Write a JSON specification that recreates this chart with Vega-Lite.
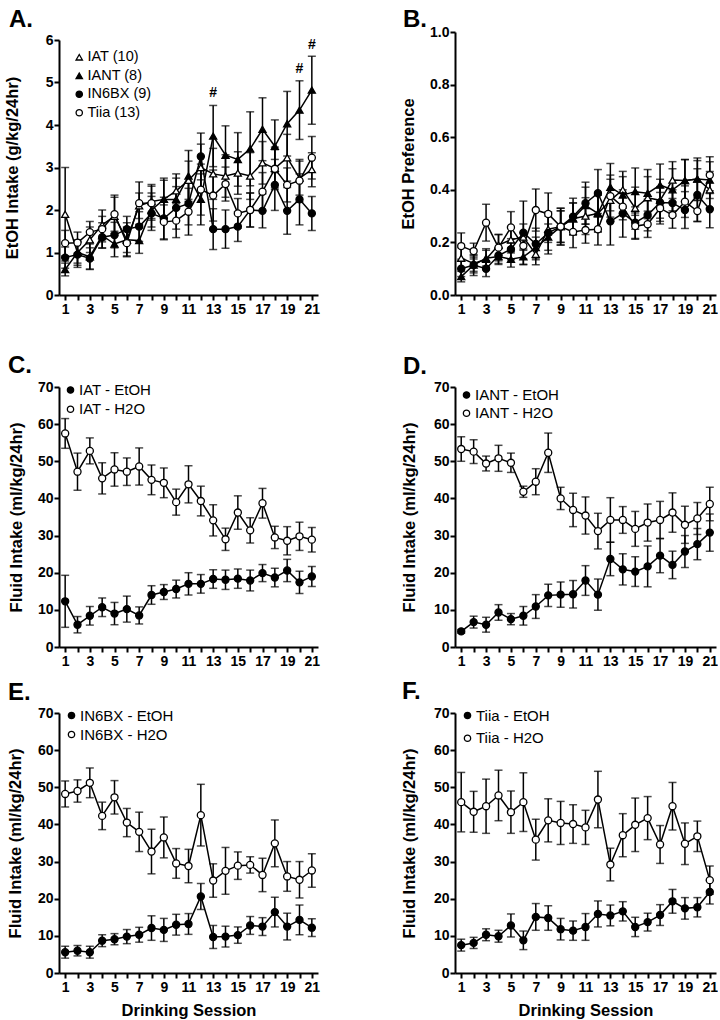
{
"$schema": "https://vega.github.io/schema/vega-lite/v6.json",
"background": "white",
"padding": {"left": 4, "top": 8, "right": 0, "bottom": 0},
"autosize": {"type": "pad"},
"config": {
  "view": {"stroke": null},
  "font": "Liberation Sans",
  "axis": {"domainColor": "black", "domainWidth": 2, "tickColor": "black", "tickWidth": 2, "tickSize": 5, "labelFont": "Liberation Sans", "labelFontWeight": "bold", "labelFontSize": 14, "labelColor": "black", "labelPadding": 1, "titleFont": "Liberation Sans", "titleFontWeight": "bold", "titleFontSize": 16.5, "titleColor": "black", "grid": false},
  "axisX": {"labelPadding": 2, "titlePadding": 8, "labelFlush": false, "labelOverlap": false, "labelAngle": 0},
  "legend": {"labelFont": "Liberation Sans", "labelFontSize": 15, "labelColor": "black", "symbolStrokeColor": "black", "symbolStrokeWidth": 1.3, "symbolSize": 40, "padding": 0, "labelOffset": 1},
  "title": {"anchor": "start", "frame": "group", "fontSize": 24, "fontWeight": "bold", "font": "Liberation Sans", "color": "black", "baseline": "alphabetic"}
},
"datasets": {
"d": [
{"p":"A","g":"IAT (10)","s":1,"m":1.9,"e":1.1},{"p":"A","g":"IAT (10)","s":2,"m":1.0,"e":0.25},{"p":"A","g":"IAT (10)","s":3,"m":1.3,"e":0.3},{"p":"A","g":"IAT (10)","s":4,"m":1.65,"e":0.35},{"p":"A","g":"IAT (10)","s":5,"m":1.85,"e":0.45},{"p":"A","g":"IAT (10)","s":6,"m":1.3,"e":0.4},{"p":"A","g":"IAT (10)","s":7,"m":2.1,"e":0.3},{"p":"A","g":"IAT (10)","s":8,"m":2.2,"e":0.4},{"p":"A","g":"IAT (10)","s":9,"m":2.25,"e":0.45},{"p":"A","g":"IAT (10)","s":10,"m":2.45,"e":0.4},{"p":"A","g":"IAT (10)","s":11,"m":2.7,"e":0.45},{"p":"A","g":"IAT (10)","s":12,"m":3.0,"e":0.55},{"p":"A","g":"IAT (10)","s":13,"m":2.85,"e":0.6},{"p":"A","g":"IAT (10)","s":14,"m":2.8,"e":0.5},{"p":"A","g":"IAT (10)","s":15,"m":2.87,"e":0.5},{"p":"A","g":"IAT (10)","s":16,"m":2.8,"e":0.55},{"p":"A","g":"IAT (10)","s":17,"m":3.11,"e":0.5},{"p":"A","g":"IAT (10)","s":18,"m":2.98,"e":0.5},{"p":"A","g":"IAT (10)","s":19,"m":3.23,"e":0.55},{"p":"A","g":"IAT (10)","s":20,"m":2.75,"e":0.4},{"p":"A","g":"IAT (10)","s":21,"m":2.95,"e":0.4},
{"p":"A","g":"IANT (8)","s":1,"m":0.6,"e":0.15},{"p":"A","g":"IANT (8)","s":2,"m":1.0,"e":0.3},{"p":"A","g":"IANT (8)","s":3,"m":0.9,"e":0.3},{"p":"A","g":"IANT (8)","s":4,"m":1.4,"e":0.3},{"p":"A","g":"IANT (8)","s":5,"m":1.2,"e":0.3},{"p":"A","g":"IANT (8)","s":6,"m":1.3,"e":0.3},{"p":"A","g":"IANT (8)","s":7,"m":1.28,"e":0.3},{"p":"A","g":"IANT (8)","s":8,"m":2.0,"e":0.4},{"p":"A","g":"IANT (8)","s":9,"m":2.25,"e":0.5},{"p":"A","g":"IANT (8)","s":10,"m":2.25,"e":0.5},{"p":"A","g":"IANT (8)","s":11,"m":2.8,"e":0.6},{"p":"A","g":"IANT (8)","s":12,"m":2.25,"e":0.6},{"p":"A","g":"IANT (8)","s":13,"m":3.74,"e":0.72},{"p":"A","g":"IANT (8)","s":14,"m":3.29,"e":0.69},{"p":"A","g":"IANT (8)","s":15,"m":3.19,"e":0.63},{"p":"A","g":"IANT (8)","s":16,"m":3.44,"e":0.87},{"p":"A","g":"IANT (8)","s":17,"m":3.9,"e":0.74},{"p":"A","g":"IANT (8)","s":18,"m":3.5,"e":0.62},{"p":"A","g":"IANT (8)","s":19,"m":4.03,"e":0.76},{"p":"A","g":"IANT (8)","s":20,"m":4.35,"e":0.69},{"p":"A","g":"IANT (8)","s":21,"m":4.82,"e":0.8},
{"p":"A","g":"IN6BX (9)","s":1,"m":0.88,"e":0.25},{"p":"A","g":"IN6BX (9)","s":2,"m":0.95,"e":0.3},{"p":"A","g":"IN6BX (9)","s":3,"m":0.86,"e":0.25},{"p":"A","g":"IN6BX (9)","s":4,"m":1.36,"e":0.25},{"p":"A","g":"IN6BX (9)","s":5,"m":1.41,"e":0.3},{"p":"A","g":"IN6BX (9)","s":6,"m":1.55,"e":0.3},{"p":"A","g":"IN6BX (9)","s":7,"m":1.61,"e":0.35},{"p":"A","g":"IN6BX (9)","s":8,"m":1.92,"e":0.4},{"p":"A","g":"IN6BX (9)","s":9,"m":1.8,"e":0.5},{"p":"A","g":"IN6BX (9)","s":10,"m":2.05,"e":0.5},{"p":"A","g":"IN6BX (9)","s":11,"m":2.15,"e":0.5},{"p":"A","g":"IN6BX (9)","s":12,"m":3.26,"e":0.55},{"p":"A","g":"IN6BX (9)","s":13,"m":1.55,"e":0.48},{"p":"A","g":"IN6BX (9)","s":14,"m":1.55,"e":0.45},{"p":"A","g":"IN6BX (9)","s":15,"m":1.61,"e":0.35},{"p":"A","g":"IN6BX (9)","s":16,"m":2.0,"e":0.4},{"p":"A","g":"IN6BX (9)","s":17,"m":1.98,"e":0.4},{"p":"A","g":"IN6BX (9)","s":18,"m":2.59,"e":0.6},{"p":"A","g":"IN6BX (9)","s":19,"m":1.98,"e":0.55},{"p":"A","g":"IN6BX (9)","s":20,"m":2.25,"e":0.6},{"p":"A","g":"IN6BX (9)","s":21,"m":1.92,"e":0.4},
{"p":"A","g":"Tiia (13)","s":1,"m":1.22,"e":0.3},{"p":"A","g":"Tiia (13)","s":2,"m":1.23,"e":0.25},{"p":"A","g":"Tiia (13)","s":3,"m":1.48,"e":0.25},{"p":"A","g":"Tiia (13)","s":4,"m":1.55,"e":0.3},{"p":"A","g":"Tiia (13)","s":5,"m":1.9,"e":0.45},{"p":"A","g":"Tiia (13)","s":6,"m":1.22,"e":0.3},{"p":"A","g":"Tiia (13)","s":7,"m":2.16,"e":0.5},{"p":"A","g":"Tiia (13)","s":8,"m":2.16,"e":0.4},{"p":"A","g":"Tiia (13)","s":9,"m":1.72,"e":0.4},{"p":"A","g":"Tiia (13)","s":10,"m":1.75,"e":0.4},{"p":"A","g":"Tiia (13)","s":11,"m":1.96,"e":0.55},{"p":"A","g":"Tiia (13)","s":12,"m":2.48,"e":0.6},{"p":"A","g":"Tiia (13)","s":13,"m":2.34,"e":0.6},{"p":"A","g":"Tiia (13)","s":14,"m":2.61,"e":0.4},{"p":"A","g":"Tiia (13)","s":15,"m":1.92,"e":0.35},{"p":"A","g":"Tiia (13)","s":16,"m":2.0,"e":0.4},{"p":"A","g":"Tiia (13)","s":17,"m":2.43,"e":0.45},{"p":"A","g":"Tiia (13)","s":18,"m":2.97,"e":0.45},{"p":"A","g":"Tiia (13)","s":19,"m":2.59,"e":0.4},{"p":"A","g":"Tiia (13)","s":20,"m":2.69,"e":0.5},{"p":"A","g":"Tiia (13)","s":21,"m":3.23,"e":0.5},
{"p":"B","g":"IAT (10)","s":1,"m":0.14,"e":0.04},{"p":"B","g":"IAT (10)","s":2,"m":0.12,"e":0.03},{"p":"B","g":"IAT (10)","s":3,"m":0.136,"e":0.04},{"p":"B","g":"IAT (10)","s":4,"m":0.19,"e":0.04},{"p":"B","g":"IAT (10)","s":5,"m":0.21,"e":0.05},{"p":"B","g":"IAT (10)","s":6,"m":0.22,"e":0.05},{"p":"B","g":"IAT (10)","s":7,"m":0.155,"e":0.04},{"p":"B","g":"IAT (10)","s":8,"m":0.25,"e":0.05},{"p":"B","g":"IAT (10)","s":9,"m":0.26,"e":0.06},{"p":"B","g":"IAT (10)","s":10,"m":0.29,"e":0.06},{"p":"B","g":"IAT (10)","s":11,"m":0.3,"e":0.07},{"p":"B","g":"IAT (10)","s":12,"m":0.31,"e":0.07},{"p":"B","g":"IAT (10)","s":13,"m":0.36,"e":0.08},{"p":"B","g":"IAT (10)","s":14,"m":0.4,"e":0.07},{"p":"B","g":"IAT (10)","s":15,"m":0.33,"e":0.08},{"p":"B","g":"IAT (10)","s":16,"m":0.37,"e":0.08},{"p":"B","g":"IAT (10)","s":17,"m":0.36,"e":0.08},{"p":"B","g":"IAT (10)","s":18,"m":0.437,"e":0.07},{"p":"B","g":"IAT (10)","s":19,"m":0.435,"e":0.08},{"p":"B","g":"IAT (10)","s":20,"m":0.441,"e":0.07},{"p":"B","g":"IAT (10)","s":21,"m":0.4,"e":0.07},
{"p":"B","g":"IANT (8)","s":1,"m":0.07,"e":0.02},{"p":"B","g":"IANT (8)","s":2,"m":0.114,"e":0.03},{"p":"B","g":"IANT (8)","s":3,"m":0.14,"e":0.03},{"p":"B","g":"IANT (8)","s":4,"m":0.146,"e":0.03},{"p":"B","g":"IANT (8)","s":5,"m":0.136,"e":0.03},{"p":"B","g":"IANT (8)","s":6,"m":0.145,"e":0.03},{"p":"B","g":"IANT (8)","s":7,"m":0.18,"e":0.04},{"p":"B","g":"IANT (8)","s":8,"m":0.22,"e":0.05},{"p":"B","g":"IANT (8)","s":9,"m":0.26,"e":0.06},{"p":"B","g":"IANT (8)","s":10,"m":0.29,"e":0.06},{"p":"B","g":"IANT (8)","s":11,"m":0.34,"e":0.07},{"p":"B","g":"IANT (8)","s":12,"m":0.31,"e":0.07},{"p":"B","g":"IANT (8)","s":13,"m":0.41,"e":0.09},{"p":"B","g":"IANT (8)","s":14,"m":0.38,"e":0.07},{"p":"B","g":"IANT (8)","s":15,"m":0.393,"e":0.09},{"p":"B","g":"IANT (8)","s":16,"m":0.387,"e":0.09},{"p":"B","g":"IANT (8)","s":17,"m":0.418,"e":0.08},{"p":"B","g":"IANT (8)","s":18,"m":0.4,"e":0.08},{"p":"B","g":"IANT (8)","s":19,"m":0.435,"e":0.08},{"p":"B","g":"IANT (8)","s":20,"m":0.441,"e":0.08},{"p":"B","g":"IANT (8)","s":21,"m":0.437,"e":0.07},
{"p":"B","g":"IN6BX (9)","s":1,"m":0.1,"e":0.03},{"p":"B","g":"IN6BX (9)","s":2,"m":0.114,"e":0.04},{"p":"B","g":"IN6BX (9)","s":3,"m":0.1,"e":0.03},{"p":"B","g":"IN6BX (9)","s":4,"m":0.15,"e":0.03},{"p":"B","g":"IN6BX (9)","s":5,"m":0.174,"e":0.04},{"p":"B","g":"IN6BX (9)","s":6,"m":0.237,"e":0.12},{"p":"B","g":"IN6BX (9)","s":7,"m":0.194,"e":0.06},{"p":"B","g":"IN6BX (9)","s":8,"m":0.236,"e":0.08},{"p":"B","g":"IN6BX (9)","s":9,"m":0.26,"e":0.07},{"p":"B","g":"IN6BX (9)","s":10,"m":0.298,"e":0.07},{"p":"B","g":"IN6BX (9)","s":11,"m":0.349,"e":0.08},{"p":"B","g":"IN6BX (9)","s":12,"m":0.387,"e":0.09},{"p":"B","g":"IN6BX (9)","s":13,"m":0.28,"e":0.09},{"p":"B","g":"IN6BX (9)","s":14,"m":0.31,"e":0.09},{"p":"B","g":"IN6BX (9)","s":15,"m":0.275,"e":0.06},{"p":"B","g":"IN6BX (9)","s":16,"m":0.304,"e":0.06},{"p":"B","g":"IN6BX (9)","s":17,"m":0.352,"e":0.06},{"p":"B","g":"IN6BX (9)","s":18,"m":0.35,"e":0.05},{"p":"B","g":"IN6BX (9)","s":19,"m":0.323,"e":0.07},{"p":"B","g":"IN6BX (9)","s":20,"m":0.38,"e":0.1},{"p":"B","g":"IN6BX (9)","s":21,"m":0.326,"e":0.07},
{"p":"B","g":"Tiia (13)","s":1,"m":0.186,"e":0.05},{"p":"B","g":"Tiia (13)","s":2,"m":0.167,"e":0.03},{"p":"B","g":"Tiia (13)","s":3,"m":0.275,"e":0.07},{"p":"B","g":"Tiia (13)","s":4,"m":0.18,"e":0.05},{"p":"B","g":"Tiia (13)","s":5,"m":0.257,"e":0.06},{"p":"B","g":"Tiia (13)","s":6,"m":0.187,"e":0.05},{"p":"B","g":"Tiia (13)","s":7,"m":0.323,"e":0.08},{"p":"B","g":"Tiia (13)","s":8,"m":0.308,"e":0.08},{"p":"B","g":"Tiia (13)","s":9,"m":0.26,"e":0.07},{"p":"B","g":"Tiia (13)","s":10,"m":0.24,"e":0.06},{"p":"B","g":"Tiia (13)","s":11,"m":0.247,"e":0.05},{"p":"B","g":"Tiia (13)","s":12,"m":0.25,"e":0.06},{"p":"B","g":"Tiia (13)","s":13,"m":0.376,"e":0.08},{"p":"B","g":"Tiia (13)","s":14,"m":0.336,"e":0.05},{"p":"B","g":"Tiia (13)","s":15,"m":0.262,"e":0.05},{"p":"B","g":"Tiia (13)","s":16,"m":0.269,"e":0.05},{"p":"B","g":"Tiia (13)","s":17,"m":0.33,"e":0.06},{"p":"B","g":"Tiia (13)","s":18,"m":0.304,"e":0.05},{"p":"B","g":"Tiia (13)","s":19,"m":0.355,"e":0.06},{"p":"B","g":"Tiia (13)","s":20,"m":0.319,"e":0.04},{"p":"B","g":"Tiia (13)","s":21,"m":0.456,"e":0.07},
{"p":"C","g":"IAT - EtOH","s":1,"m":12.3,"e":7},{"p":"C","g":"IAT - EtOH","s":2,"m":6,"e":2.2},{"p":"C","g":"IAT - EtOH","s":3,"m":8.4,"e":2.5},{"p":"C","g":"IAT - EtOH","s":4,"m":10.7,"e":2.5},{"p":"C","g":"IAT - EtOH","s":5,"m":9,"e":3},{"p":"C","g":"IAT - EtOH","s":6,"m":10.2,"e":3.5},{"p":"C","g":"IAT - EtOH","s":7,"m":8.5,"e":2.3},{"p":"C","g":"IAT - EtOH","s":8,"m":14,"e":2.5},{"p":"C","g":"IAT - EtOH","s":9,"m":14.8,"e":2},{"p":"C","g":"IAT - EtOH","s":10,"m":15.6,"e":2.4},{"p":"C","g":"IAT - EtOH","s":11,"m":17,"e":3},{"p":"C","g":"IAT - EtOH","s":12,"m":17,"e":2.5},{"p":"C","g":"IAT - EtOH","s":13,"m":18.3,"e":2.5},{"p":"C","g":"IAT - EtOH","s":14,"m":18.1,"e":2.6},{"p":"C","g":"IAT - EtOH","s":15,"m":18.4,"e":2.6},{"p":"C","g":"IAT - EtOH","s":16,"m":17.9,"e":2.8},{"p":"C","g":"IAT - EtOH","s":17,"m":19.9,"e":2.3},{"p":"C","g":"IAT - EtOH","s":18,"m":18.7,"e":2.5},{"p":"C","g":"IAT - EtOH","s":19,"m":20.6,"e":3},{"p":"C","g":"IAT - EtOH","s":20,"m":17.4,"e":3},{"p":"C","g":"IAT - EtOH","s":21,"m":19,"e":2.7},
{"p":"C","g":"IAT - H2O","s":1,"m":57.5,"e":4},{"p":"C","g":"IAT - H2O","s":2,"m":47.2,"e":5},{"p":"C","g":"IAT - H2O","s":3,"m":52.8,"e":3.5},{"p":"C","g":"IAT - H2O","s":4,"m":45.4,"e":4.2},{"p":"C","g":"IAT - H2O","s":5,"m":47.8,"e":4.5},{"p":"C","g":"IAT - H2O","s":6,"m":47.2,"e":3.7},{"p":"C","g":"IAT - H2O","s":7,"m":48.6,"e":5},{"p":"C","g":"IAT - H2O","s":8,"m":45,"e":4},{"p":"C","g":"IAT - H2O","s":9,"m":44.2,"e":4},{"p":"C","g":"IAT - H2O","s":10,"m":39,"e":3.5},{"p":"C","g":"IAT - H2O","s":11,"m":43.8,"e":5},{"p":"C","g":"IAT - H2O","s":12,"m":39.3,"e":4},{"p":"C","g":"IAT - H2O","s":13,"m":34.1,"e":4.2},{"p":"C","g":"IAT - H2O","s":14,"m":29,"e":3},{"p":"C","g":"IAT - H2O","s":15,"m":36.2,"e":4.5},{"p":"C","g":"IAT - H2O","s":16,"m":31.4,"e":3.4},{"p":"C","g":"IAT - H2O","s":17,"m":38.7,"e":4},{"p":"C","g":"IAT - H2O","s":18,"m":29.5,"e":3},{"p":"C","g":"IAT - H2O","s":19,"m":28.6,"e":3.8},{"p":"C","g":"IAT - H2O","s":20,"m":29.8,"e":3.8},{"p":"C","g":"IAT - H2O","s":21,"m":28.9,"e":3.3},
{"p":"D","g":"IANT - EtOH","s":1,"m":4.2,"e":0.5},{"p":"D","g":"IANT - EtOH","s":2,"m":6.7,"e":1.6},{"p":"D","g":"IANT - EtOH","s":3,"m":6,"e":2},{"p":"D","g":"IANT - EtOH","s":4,"m":9.3,"e":2.1},{"p":"D","g":"IANT - EtOH","s":5,"m":7.5,"e":1.5},{"p":"D","g":"IANT - EtOH","s":6,"m":8.4,"e":2.5},{"p":"D","g":"IANT - EtOH","s":7,"m":10.9,"e":3.2},{"p":"D","g":"IANT - EtOH","s":8,"m":13.9,"e":3},{"p":"D","g":"IANT - EtOH","s":9,"m":14.1,"e":3.4},{"p":"D","g":"IANT - EtOH","s":10,"m":14.2,"e":3.7},{"p":"D","g":"IANT - EtOH","s":11,"m":17.9,"e":4},{"p":"D","g":"IANT - EtOH","s":12,"m":14.1,"e":4.2},{"p":"D","g":"IANT - EtOH","s":13,"m":23.7,"e":4.5},{"p":"D","g":"IANT - EtOH","s":14,"m":20.9,"e":4.2},{"p":"D","g":"IANT - EtOH","s":15,"m":20.3,"e":4},{"p":"D","g":"IANT - EtOH","s":16,"m":21.7,"e":5.5},{"p":"D","g":"IANT - EtOH","s":17,"m":24.6,"e":4.6},{"p":"D","g":"IANT - EtOH","s":18,"m":22.1,"e":3.7},{"p":"D","g":"IANT - EtOH","s":19,"m":25.7,"e":4.3},{"p":"D","g":"IANT - EtOH","s":20,"m":27.7,"e":4.2},{"p":"D","g":"IANT - EtOH","s":21,"m":30.8,"e":5},
{"p":"D","g":"IANT - H2O","s":1,"m":53.3,"e":3.3},{"p":"D","g":"IANT - H2O","s":2,"m":52.6,"e":3.2},{"p":"D","g":"IANT - H2O","s":3,"m":49.4,"e":2},{"p":"D","g":"IANT - H2O","s":4,"m":50.8,"e":3.5},{"p":"D","g":"IANT - H2O","s":5,"m":49.6,"e":2.6},{"p":"D","g":"IANT - H2O","s":6,"m":41.8,"e":1.5},{"p":"D","g":"IANT - H2O","s":7,"m":44.5,"e":3.5},{"p":"D","g":"IANT - H2O","s":8,"m":52.3,"e":5.3},{"p":"D","g":"IANT - H2O","s":9,"m":40,"e":3},{"p":"D","g":"IANT - H2O","s":10,"m":36.9,"e":4.5},{"p":"D","g":"IANT - H2O","s":11,"m":35.4,"e":5},{"p":"D","g":"IANT - H2O","s":12,"m":31.2,"e":4.8},{"p":"D","g":"IANT - H2O","s":13,"m":34.2,"e":6},{"p":"D","g":"IANT - H2O","s":14,"m":34.2,"e":3.6},{"p":"D","g":"IANT - H2O","s":15,"m":31.8,"e":4.7},{"p":"D","g":"IANT - H2O","s":16,"m":33.5,"e":5},{"p":"D","g":"IANT - H2O","s":17,"m":34.2,"e":5},{"p":"D","g":"IANT - H2O","s":18,"m":36.2,"e":5.3},{"p":"D","g":"IANT - H2O","s":19,"m":32.9,"e":5},{"p":"D","g":"IANT - H2O","s":20,"m":34.6,"e":4.3},{"p":"D","g":"IANT - H2O","s":21,"m":38.5,"e":4.5},
{"p":"E","g":"IN6BX - EtOH","s":1,"m":5.6,"e":1.6},{"p":"E","g":"IN6BX - EtOH","s":2,"m":6,"e":1.4},{"p":"E","g":"IN6BX - EtOH","s":3,"m":5.6,"e":1.6},{"p":"E","g":"IN6BX - EtOH","s":4,"m":8.7,"e":1.6},{"p":"E","g":"IN6BX - EtOH","s":5,"m":9.1,"e":1.5},{"p":"E","g":"IN6BX - EtOH","s":6,"m":9.8,"e":1.9},{"p":"E","g":"IN6BX - EtOH","s":7,"m":10.3,"e":2},{"p":"E","g":"IN6BX - EtOH","s":8,"m":12.1,"e":3.3},{"p":"E","g":"IN6BX - EtOH","s":9,"m":11.6,"e":3.1},{"p":"E","g":"IN6BX - EtOH","s":10,"m":13,"e":2.8},{"p":"E","g":"IN6BX - EtOH","s":11,"m":13.2,"e":2.8},{"p":"E","g":"IN6BX - EtOH","s":12,"m":20.6,"e":3.5},{"p":"E","g":"IN6BX - EtOH","s":13,"m":9.7,"e":3.1},{"p":"E","g":"IN6BX - EtOH","s":14,"m":9.8,"e":2.8},{"p":"E","g":"IN6BX - EtOH","s":15,"m":10.2,"e":2.2},{"p":"E","g":"IN6BX - EtOH","s":16,"m":12.8,"e":2.4},{"p":"E","g":"IN6BX - EtOH","s":17,"m":12.5,"e":2.4},{"p":"E","g":"IN6BX - EtOH","s":18,"m":16.4,"e":4},{"p":"E","g":"IN6BX - EtOH","s":19,"m":12.5,"e":3.6},{"p":"E","g":"IN6BX - EtOH","s":20,"m":14.3,"e":4},{"p":"E","g":"IN6BX - EtOH","s":21,"m":12.2,"e":2.4},
{"p":"E","g":"IN6BX - H2O","s":1,"m":48.2,"e":3.5},{"p":"E","g":"IN6BX - H2O","s":2,"m":49,"e":3},{"p":"E","g":"IN6BX - H2O","s":3,"m":51.2,"e":4},{"p":"E","g":"IN6BX - H2O","s":4,"m":42.3,"e":3.7},{"p":"E","g":"IN6BX - H2O","s":5,"m":47.3,"e":4.5},{"p":"E","g":"IN6BX - H2O","s":6,"m":40.5,"e":3.8},{"p":"E","g":"IN6BX - H2O","s":7,"m":38,"e":5.3},{"p":"E","g":"IN6BX - H2O","s":8,"m":32.7,"e":6},{"p":"E","g":"IN6BX - H2O","s":9,"m":36.5,"e":5.5},{"p":"E","g":"IN6BX - H2O","s":10,"m":29.5,"e":4},{"p":"E","g":"IN6BX - H2O","s":11,"m":28.8,"e":4.5},{"p":"E","g":"IN6BX - H2O","s":12,"m":42.5,"e":8.3},{"p":"E","g":"IN6BX - H2O","s":13,"m":24.9,"e":4.5},{"p":"E","g":"IN6BX - H2O","s":14,"m":27.5,"e":6.3},{"p":"E","g":"IN6BX - H2O","s":15,"m":28.9,"e":3.7},{"p":"E","g":"IN6BX - H2O","s":16,"m":29.1,"e":2.2},{"p":"E","g":"IN6BX - H2O","s":17,"m":26.4,"e":4.5},{"p":"E","g":"IN6BX - H2O","s":18,"m":34.9,"e":6.3},{"p":"E","g":"IN6BX - H2O","s":19,"m":26,"e":4},{"p":"E","g":"IN6BX - H2O","s":20,"m":25.1,"e":4.9},{"p":"E","g":"IN6BX - H2O","s":21,"m":27.6,"e":4.5},
{"p":"F","g":"Tiia - EtOH","s":1,"m":7.5,"e":1.6},{"p":"F","g":"Tiia - EtOH","s":2,"m":8.1,"e":1.5},{"p":"F","g":"Tiia - EtOH","s":3,"m":10.3,"e":1.6},{"p":"F","g":"Tiia - EtOH","s":4,"m":9.9,"e":1.6},{"p":"F","g":"Tiia - EtOH","s":5,"m":12.8,"e":3.1},{"p":"F","g":"Tiia - EtOH","s":6,"m":8.8,"e":2.5},{"p":"F","g":"Tiia - EtOH","s":7,"m":15.1,"e":3.6},{"p":"F","g":"Tiia - EtOH","s":8,"m":14.8,"e":3.3},{"p":"F","g":"Tiia - EtOH","s":9,"m":11.8,"e":2.9},{"p":"F","g":"Tiia - EtOH","s":10,"m":11.4,"e":2.6},{"p":"F","g":"Tiia - EtOH","s":11,"m":12.4,"e":3.6},{"p":"F","g":"Tiia - EtOH","s":12,"m":15.9,"e":3.5},{"p":"F","g":"Tiia - EtOH","s":13,"m":15.5,"e":2.8},{"p":"F","g":"Tiia - EtOH","s":14,"m":16.6,"e":2.6},{"p":"F","g":"Tiia - EtOH","s":15,"m":12.4,"e":2.6},{"p":"F","g":"Tiia - EtOH","s":16,"m":13.7,"e":2.4},{"p":"F","g":"Tiia - EtOH","s":17,"m":15.6,"e":2.8},{"p":"F","g":"Tiia - EtOH","s":18,"m":19.3,"e":3.2},{"p":"F","g":"Tiia - EtOH","s":19,"m":17.4,"e":2.9},{"p":"F","g":"Tiia - EtOH","s":20,"m":17.7,"e":2.6},{"p":"F","g":"Tiia - EtOH","s":21,"m":21.8,"e":3.2},
{"p":"F","g":"Tiia - H2O","s":1,"m":46,"e":8},{"p":"F","g":"Tiia - H2O","s":2,"m":43.4,"e":5.5},{"p":"F","g":"Tiia - H2O","s":3,"m":44.9,"e":7.3},{"p":"F","g":"Tiia - H2O","s":4,"m":47.8,"e":6.8},{"p":"F","g":"Tiia - H2O","s":5,"m":43.3,"e":5.7},{"p":"F","g":"Tiia - H2O","s":6,"m":46,"e":7.9},{"p":"F","g":"Tiia - H2O","s":7,"m":35.9,"e":5.5},{"p":"F","g":"Tiia - H2O","s":8,"m":41.1,"e":5.8},{"p":"F","g":"Tiia - H2O","s":9,"m":40.4,"e":5.8},{"p":"F","g":"Tiia - H2O","s":10,"m":40.1,"e":5.2},{"p":"F","g":"Tiia - H2O","s":11,"m":39.2,"e":4.6},{"p":"F","g":"Tiia - H2O","s":12,"m":46.7,"e":7.6},{"p":"F","g":"Tiia - H2O","s":13,"m":29.2,"e":4.4},{"p":"F","g":"Tiia - H2O","s":14,"m":37.1,"e":5.8},{"p":"F","g":"Tiia - H2O","s":15,"m":39.9,"e":7.2},{"p":"F","g":"Tiia - H2O","s":16,"m":41.7,"e":5.8},{"p":"F","g":"Tiia - H2O","s":17,"m":34.6,"e":5.1},{"p":"F","g":"Tiia - H2O","s":18,"m":44.9,"e":6.4},{"p":"F","g":"Tiia - H2O","s":19,"m":34.8,"e":5.6},{"p":"F","g":"Tiia - H2O","s":20,"m":36.8,"e":4.1},{"p":"F","g":"Tiia - H2O","s":21,"m":25,"e":3.8}
]
},
"columns": 2,
"spacing": {"row": 66, "column": 137},
"bounds": "flush",
"align": "each",
"resolve": {"scale": {"shape": "independent", "fill": "independent", "stroke": "independent", "x": "independent", "y": "independent"}},
"concat": [
 {"width": 259, "height": 263,
  "title": {"text": "A.", "dx": -50, "offset": 0},
  "encoding": {
   "x": {"field": "s", "type": "quantitative", "scale": {"domain": [0.5, 21.5], "nice": false, "zero": false}, "axis": {"values": [1,2,3,4,5,6,7,8,9,10,11,12,13,14,15,16,17,18,19,20,21], "labelExpr": "datum.value % 2 == 1 ? datum.label : ''", "title": null}},
   "y": {"field": "m", "type": "quantitative", "scale": {"domain": [0, 6], "range": [263, 8], "nice": false}, "axis": {"values": [0,1,2,3,4,5,6], "title": "EtOH Intake (g/kg/24hr)", "titlePadding": 25}}
  },
  "layer": [
   {"data": {"values": [{"s": 20.5}]}, "mark": {"type": "rule", "strokeDash": [2, 2], "strokeWidth": 1, "color": "#444"}, "encoding": {"y": {"datum": 0}, "y2": {"datum": 6}}},
   {"data": {"name": "d"}, "transform": [{"filter": "datum.p == 'A'"}], "mark": {"type": "errorbar", "ticks": {"size": 8}, "thickness": 1.5, "color": "black"}, "encoding": {"yError": {"field": "e"}, "detail": {"field": "g"}}},
   {"data": {"name": "d"}, "transform": [{"filter": "datum.p == 'A'"}], "mark": {"type": "line", "color": "black", "strokeWidth": 1.5}, "encoding": {"detail": {"field": "g"}}},
   {"data": {"name": "d"}, "transform": [{"filter": "datum.p == 'A'"}], "mark": {"type": "point", "filled": true, "opacity": 1, "size": 50, "strokeWidth": 1.3},
    "encoding": {
     "shape": {"field": "g", "scale": {"domain": ["IAT (10)","IANT (8)","IN6BX (9)","Tiia (13)"], "range": ["triangle-up","triangle-up","circle","circle"]}, "legend": {"title": null, "orient": "none", "legendX": 13, "legendY": 18, "rowPadding": 3.5, "labelFontSize": 14.5}},
     "fill": {"field": "g", "scale": {"domain": ["IAT (10)","IANT (8)","IN6BX (9)","Tiia (13)"], "range": ["white","black","black","white"]}, "legend": {"title": null, "orient": "none", "legendX": 13, "legendY": 18, "rowPadding": 3.5, "labelFontSize": 14.5}},
     "stroke": {"field": "g", "scale": {"domain": ["IAT (10)","IANT (8)","IN6BX (9)","Tiia (13)"], "range": ["black","black","black","black"]}, "legend": {"title": null, "orient": "none", "legendX": 13, "legendY": 18, "rowPadding": 3.5, "labelFontSize": 14.5}}
    }},
   {"data": {"values": [{"s": 13, "m": 4.75, "t": "#"}, {"s": 20, "m": 5.31, "t": "#"}, {"s": 21, "m": 5.88, "t": "#"}]}, "mark": {"type": "text", "fontSize": 14, "fontWeight": "bold", "color": "black", "font": "Liberation Sans"}, "encoding": {"text": {"field": "t"}}}
  ]},
 {"width": 261, "height": 263,
  "title": {"text": "B.", "dx": -52, "offset": -7},
  "encoding": {
   "x": {"field": "s", "type": "quantitative", "scale": {"domain": [0.5, 21.5], "nice": false, "zero": false}, "axis": {"values": [1,2,3,4,5,6,7,8,9,10,11,12,13,14,15,16,17,18,19,20,21], "labelExpr": "datum.value % 2 == 1 ? datum.label : ''", "title": null}},
   "y": {"field": "m", "type": "quantitative", "scale": {"domain": [0, 1], "nice": false}, "axis": {"values": [0,0.2,0.4,0.6,0.8,1], "format": ".1f", "title": "EtOH Preference", "titlePadding": 13}}
  },
  "layer": [
   {"data": {"values": [{"s": 20.5}]}, "mark": {"type": "rule", "strokeDash": [2, 2], "strokeWidth": 1, "color": "#444"}, "encoding": {"y": {"datum": 0}, "y2": {"datum": 1}}},
   {"data": {"name": "d"}, "transform": [{"filter": "datum.p == 'B'"}], "mark": {"type": "errorbar", "ticks": {"size": 8}, "thickness": 1.5, "color": "black"}, "encoding": {"yError": {"field": "e"}, "detail": {"field": "g"}}},
   {"data": {"name": "d"}, "transform": [{"filter": "datum.p == 'B'"}], "mark": {"type": "line", "color": "black", "strokeWidth": 1.5}, "encoding": {"detail": {"field": "g"}}},
   {"data": {"name": "d"}, "transform": [{"filter": "datum.p == 'B'"}], "mark": {"type": "point", "filled": true, "opacity": 1, "size": 50, "stroke": "black", "strokeWidth": 1.3},
    "encoding": {
     "shape": {"field": "g", "scale": {"domain": ["IAT (10)","IANT (8)","IN6BX (9)","Tiia (13)"], "range": ["triangle-up","triangle-up","circle","circle"]}, "legend": null},
     "fill": {"field": "g", "scale": {"domain": ["IAT (10)","IANT (8)","IN6BX (9)","Tiia (13)"], "range": ["white","black","black","white"]}, "legend": null}
    }}
  ]},
 {"width": 259, "height": 286,
  "title": {"text": "C.", "dx": -51, "offset": -17},
  "encoding": {
   "x": {"field": "s", "type": "quantitative", "scale": {"domain": [0.5, 21.5], "nice": false, "zero": false}, "axis": {"values": [1,2,3,4,5,6,7,8,9,10,11,12,13,14,15,16,17,18,19,20,21], "labelExpr": "datum.value % 2 == 1 ? datum.label : ''", "title": null}},
   "y": {"field": "m", "type": "quantitative", "scale": {"domain": [0, 70], "range": [286, 26], "nice": false}, "axis": {"values": [0,10,20,30,40,50,60,70], "title": "Fluid Intake (ml/kg/24hr)", "titlePadding": 13}}
  },
  "layer": [
   {"data": {"values": [{"s": 20.5}]}, "mark": {"type": "rule", "strokeDash": [2, 2], "strokeWidth": 1, "color": "#444"}, "encoding": {"y": {"datum": 0}, "y2": {"datum": 70}}},
   {"data": {"name": "d"}, "transform": [{"filter": "datum.p == 'C'"}], "mark": {"type": "errorbar", "ticks": {"size": 8}, "thickness": 1.5, "color": "black"}, "encoding": {"yError": {"field": "e"}, "detail": {"field": "g"}}},
   {"data": {"name": "d"}, "transform": [{"filter": "datum.p == 'C'"}], "mark": {"type": "line", "color": "black", "strokeWidth": 1.5}, "encoding": {"detail": {"field": "g"}}},
   {"data": {"name": "d"}, "transform": [{"filter": "datum.p == 'C'"}], "mark": {"type": "point", "filled": true, "opacity": 1, "size": 50, "strokeWidth": 1.3},
    "encoding": {
     "shape": {"field": "g", "scale": {"domain": ["IAT - EtOH","IAT - H2O"], "range": ["circle","circle"]}, "legend": {"title": null, "orient": "none", "legendX": 4, "legendY": 21.5, "rowPadding": 3.2}},
     "fill": {"field": "g", "scale": {"domain": ["IAT - EtOH","IAT - H2O"], "range": ["black","white"]}, "legend": {"title": null, "orient": "none", "legendX": 4, "legendY": 21.5, "rowPadding": 3.2}},
     "stroke": {"field": "g", "scale": {"domain": ["IAT - EtOH","IAT - H2O"], "range": ["black","black"]}, "legend": {"title": null, "orient": "none", "legendX": 4, "legendY": 21.5, "rowPadding": 3.2}}
    }}
  ]},
 {"width": 261, "height": 286,
  "title": {"text": "D.", "dx": -52, "offset": -17.7},
  "encoding": {
   "x": {"field": "s", "type": "quantitative", "scale": {"domain": [0.5, 21.5], "nice": false, "zero": false}, "axis": {"values": [1,2,3,4,5,6,7,8,9,10,11,12,13,14,15,16,17,18,19,20,21], "labelExpr": "datum.value % 2 == 1 ? datum.label : ''", "title": null}},
   "y": {"field": "m", "type": "quantitative", "scale": {"domain": [0, 70], "range": [286, 26], "nice": false}, "axis": {"values": [0,10,20,30,40,50,60,70], "title": "Fluid Intake (ml/kg/24hr)", "titlePadding": 16}}
  },
  "layer": [
   {"data": {"values": [{"s": 20.5}]}, "mark": {"type": "rule", "strokeDash": [2, 2], "strokeWidth": 1, "color": "#444"}, "encoding": {"y": {"datum": 0}, "y2": {"datum": 70}}},
   {"data": {"name": "d"}, "transform": [{"filter": "datum.p == 'D'"}], "mark": {"type": "errorbar", "ticks": {"size": 8}, "thickness": 1.5, "color": "black"}, "encoding": {"yError": {"field": "e"}, "detail": {"field": "g"}}},
   {"data": {"name": "d"}, "transform": [{"filter": "datum.p == 'D'"}], "mark": {"type": "line", "color": "black", "strokeWidth": 1.5}, "encoding": {"detail": {"field": "g"}}},
   {"data": {"name": "d"}, "transform": [{"filter": "datum.p == 'D'"}], "mark": {"type": "point", "filled": true, "opacity": 1, "size": 50, "strokeWidth": 1.3},
    "encoding": {
     "shape": {"field": "g", "scale": {"domain": ["IANT - EtOH","IANT - H2O"], "range": ["circle","circle"]}, "legend": {"title": null, "orient": "none", "legendX": 4, "legendY": 26.5, "rowPadding": 2.2}},
     "fill": {"field": "g", "scale": {"domain": ["IANT - EtOH","IANT - H2O"], "range": ["black","white"]}, "legend": {"title": null, "orient": "none", "legendX": 4, "legendY": 26.5, "rowPadding": 2.2}},
     "stroke": {"field": "g", "scale": {"domain": ["IANT - EtOH","IANT - H2O"], "range": ["black","black"]}, "legend": {"title": null, "orient": "none", "legendX": 4, "legendY": 26.5, "rowPadding": 2.2}}
    }}
  ]},
 {"width": 259, "height": 260,
  "title": {"text": "E.", "dx": -51, "offset": 1},
  "encoding": {
   "x": {"field": "s", "type": "quantitative", "scale": {"domain": [0.5, 21.5], "nice": false, "zero": false}, "axis": {"values": [1,2,3,4,5,6,7,8,9,10,11,12,13,14,15,16,17,18,19,20,21], "labelExpr": "datum.value % 2 == 1 ? datum.label : ''", "title": "Drinking Session"}},
   "y": {"field": "m", "type": "quantitative", "scale": {"domain": [0, 70], "nice": false}, "axis": {"values": [0,10,20,30,40,50,60,70], "title": "Fluid Intake (ml/kg/24hr)", "titlePadding": 14}}
  },
  "layer": [
   {"data": {"values": [{"s": 20.5}]}, "mark": {"type": "rule", "strokeDash": [2, 2], "strokeWidth": 1, "color": "#444"}, "encoding": {"y": {"datum": 0}, "y2": {"datum": 70}}},
   {"data": {"name": "d"}, "transform": [{"filter": "datum.p == 'E'"}], "mark": {"type": "errorbar", "ticks": {"size": 8}, "thickness": 1.5, "color": "black"}, "encoding": {"yError": {"field": "e"}, "detail": {"field": "g"}}},
   {"data": {"name": "d"}, "transform": [{"filter": "datum.p == 'E'"}], "mark": {"type": "line", "color": "black", "strokeWidth": 1.5}, "encoding": {"detail": {"field": "g"}}},
   {"data": {"name": "d"}, "transform": [{"filter": "datum.p == 'E'"}], "mark": {"type": "point", "filled": true, "opacity": 1, "size": 50, "strokeWidth": 1.3},
    "encoding": {
     "shape": {"field": "g", "scale": {"domain": ["IN6BX - EtOH","IN6BX - H2O"], "range": ["circle","circle"]}, "legend": {"title": null, "orient": "none", "legendX": 5, "legendY": -5, "rowPadding": 3}},
     "fill": {"field": "g", "scale": {"domain": ["IN6BX - EtOH","IN6BX - H2O"], "range": ["black","white"]}, "legend": {"title": null, "orient": "none", "legendX": 5, "legendY": -5, "rowPadding": 3}},
     "stroke": {"field": "g", "scale": {"domain": ["IN6BX - EtOH","IN6BX - H2O"], "range": ["black","black"]}, "legend": {"title": null, "orient": "none", "legendX": 5, "legendY": -5, "rowPadding": 3}}
    }}
  ]},
 {"width": 261, "height": 260,
  "title": {"text": "F.", "dx": -53, "offset": 2},
  "encoding": {
   "x": {"field": "s", "type": "quantitative", "scale": {"domain": [0.5, 21.5], "nice": false, "zero": false}, "axis": {"values": [1,2,3,4,5,6,7,8,9,10,11,12,13,14,15,16,17,18,19,20,21], "labelExpr": "datum.value % 2 == 1 ? datum.label : ''", "title": "Drinking Session"}},
   "y": {"field": "m", "type": "quantitative", "scale": {"domain": [0, 70], "nice": false}, "axis": {"values": [0,10,20,30,40,50,60,70], "title": "Fluid Intake (ml/kg/24hr)", "titlePadding": 16}}
  },
  "layer": [
   {"data": {"values": [{"s": 20.5}]}, "mark": {"type": "rule", "strokeDash": [2, 2], "strokeWidth": 1, "color": "#444"}, "encoding": {"y": {"datum": 0}, "y2": {"datum": 70}}},
   {"data": {"name": "d"}, "transform": [{"filter": "datum.p == 'F'"}], "mark": {"type": "errorbar", "ticks": {"size": 8}, "thickness": 1.5, "color": "black"}, "encoding": {"yError": {"field": "e"}, "detail": {"field": "g"}}},
   {"data": {"name": "d"}, "transform": [{"filter": "datum.p == 'F'"}], "mark": {"type": "line", "color": "black", "strokeWidth": 1.5}, "encoding": {"detail": {"field": "g"}}},
   {"data": {"name": "d"}, "transform": [{"filter": "datum.p == 'F'"}], "mark": {"type": "point", "filled": true, "opacity": 1, "size": 50, "strokeWidth": 1.3},
    "encoding": {
     "shape": {"field": "g", "scale": {"domain": ["Tiia - EtOH","Tiia - H2O"], "range": ["circle","circle"]}, "legend": {"title": null, "orient": "none", "legendX": 5, "legendY": -5, "rowPadding": 6.8}},
     "fill": {"field": "g", "scale": {"domain": ["Tiia - EtOH","Tiia - H2O"], "range": ["black","white"]}, "legend": {"title": null, "orient": "none", "legendX": 5, "legendY": -5, "rowPadding": 6.8}},
     "stroke": {"field": "g", "scale": {"domain": ["Tiia - EtOH","Tiia - H2O"], "range": ["black","black"]}, "legend": {"title": null, "orient": "none", "legendX": 5, "legendY": -5, "rowPadding": 6.8}}
    }}
  ]}
]
}
